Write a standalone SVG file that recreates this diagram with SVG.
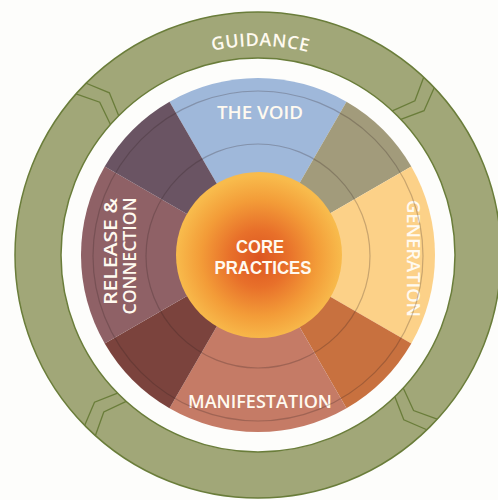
<svg xmlns="http://www.w3.org/2000/svg" width="498" height="500" viewBox="0 0 498 500">
<defs>
<style>
.lbl{font-family:"Open Sans","Liberation Sans",sans-serif;font-weight:600;fill:#fffaf0;}
.core{font-family:"Liberation Sans","Open Sans",sans-serif;font-weight:700;fill:#fffaf0;}
.ring{fill:#a1a778;stroke:#6a7d3a;stroke-width:1.5;}
.chev{fill:none;stroke:#6a7d3a;stroke-width:1.3;stroke-linejoin:miter;}
.orbit{fill:none;stroke:#2e2020;stroke-opacity:0.25;stroke-width:1.2;}
</style>
<radialGradient id="coreGrad" cx="50%" cy="52%" r="50%">
<stop offset="0" stop-color="#dc5520"/>
<stop offset="0.35" stop-color="#e8702a"/>
<stop offset="0.7" stop-color="#f39c38"/>
<stop offset="1" stop-color="#f8bb4c"/>
</radialGradient>
<g id="chevPair">
<polyline class="chev" points="501,255 477.8,264.6 455,255"/>
<polyline class="chev" points="500.5,269.8 476.8,278 454.6,267"/>
</g>
<path id="guidArc" d="M61.6,183.5 A209,209 0 0 1 454.4,183.5"/>
</defs>
<rect width="498" height="500" fill="#fdfdfb"/>
<g id="guidance">
<path class="ring" fill-rule="evenodd" d="M15,255 A243,243 0 1 1 501,255 A243,243 0 1 1 15,255 Z M61,255 A197,197 0 1 0 455,255 A197,197 0 1 0 61,255 Z"/>
<text class="lbl" font-size="18" letter-spacing="0.5"><textPath href="#guidArc" startOffset="50.5%" text-anchor="middle">GUIDANCE</textPath></text>
</g>
<g id="connectors">
<use href="#chevPair" transform="rotate(42.5 258 255)"/>
<use href="#chevPair" transform="rotate(132 258 255)"/>
<use href="#chevPair" transform="rotate(221.5 258 255)"/>
<use href="#chevPair" transform="rotate(313 258 255)"/>
</g>
<g id="the-void">
<path fill="#9fb8da" d="M258,255 L169.5,101.71 A177,177 0 0 1 346.5,101.71 Z"/>
<text class="lbl" x="260" y="119" font-size="17.5" text-anchor="middle" textLength="86" lengthAdjust="spacingAndGlyphs">THE VOID</text>
</g>
<g id="void-generation">
<path fill="#a29b7b" d="M258,255 L346.5,101.71 A177,177 0 0 1 411.29,166.5 Z"/>
</g>
<g id="generation">
<path fill="#fcd188" d="M258,255 L411.29,166.5 A177,177 0 0 1 411.29,343.5 Z"/>
<text class="lbl" transform="translate(407,258.5) rotate(90)" x="0" y="0" font-size="18" text-anchor="middle" textLength="117" lengthAdjust="spacingAndGlyphs">GENERATION</text>
</g>
<g id="generation-manifestation">
<path fill="#c8713f" d="M258,255 L411.29,343.5 A177,177 0 0 1 346.5,408.29 Z"/>
</g>
<g id="manifestation">
<path fill="#c57b66" d="M258,255 L346.5,408.29 A177,177 0 0 1 169.5,408.29 Z"/>
<text class="lbl" x="260" y="408" font-size="17.5" text-anchor="middle" textLength="144" lengthAdjust="spacingAndGlyphs">MANIFESTATION</text>
</g>
<g id="manifestation-release">
<path fill="#7b433d" d="M258,255 L169.5,408.29 A177,177 0 0 1 104.71,343.5 Z"/>
</g>
<g id="release-connection">
<path fill="#8f6166" d="M258,255 L104.71,343.5 A177,177 0 0 1 104.71,166.5 Z"/>
<text class="lbl" transform="translate(116.5,251.5) rotate(-90)" x="0" y="0" font-size="18" text-anchor="middle" textLength="107" lengthAdjust="spacingAndGlyphs">RELEASE &amp;</text>
<text class="lbl" transform="translate(136,256) rotate(-90)" x="0" y="0" font-size="18" text-anchor="middle" textLength="117" lengthAdjust="spacingAndGlyphs">CONNECTION</text>
</g>
<g id="release-void">
<path fill="#6a5463" d="M258,255 L104.71,166.5 A177,177 0 0 1 169.5,101.71 Z"/>
</g>
<g id="orbits">
<circle class="orbit" cx="258" cy="256" r="112"/>
<circle class="orbit" cx="258" cy="256" r="165"/>
</g>
<g id="core-practices">
<circle cx="259" cy="255" r="83" fill="url(#coreGrad)"/>
<text class="core" x="260" y="253" font-size="18.5" text-anchor="middle" textLength="48" lengthAdjust="spacingAndGlyphs">CORE</text>
<text class="core" x="263" y="274" font-size="18.5" text-anchor="middle" textLength="97" lengthAdjust="spacingAndGlyphs">PRACTICES</text>
</g>
</svg>
